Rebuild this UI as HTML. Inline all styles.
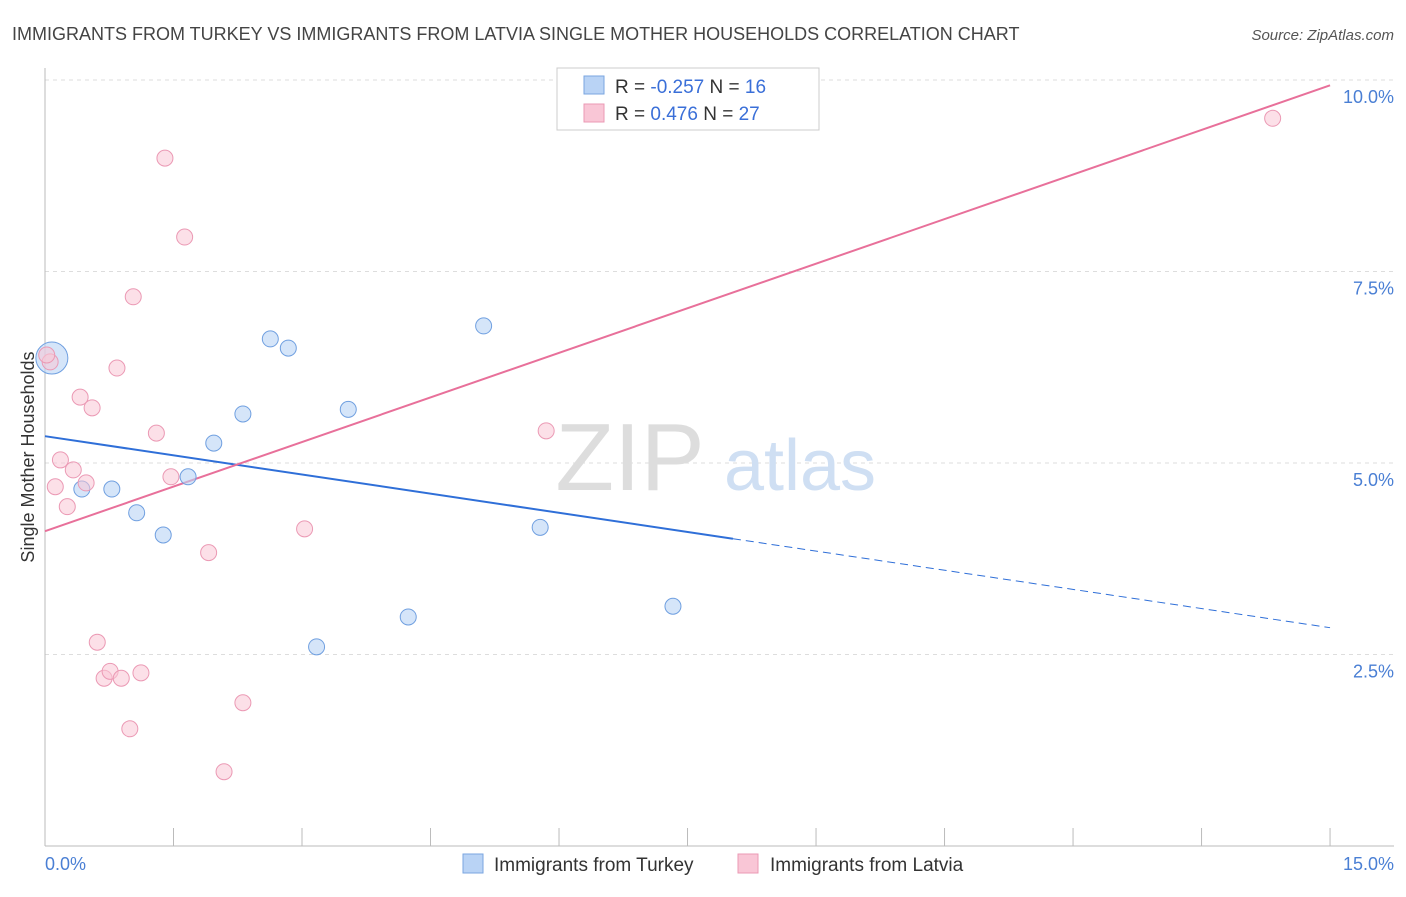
<!DOCTYPE html>
<html><head><meta charset="utf-8"><style>
body{margin:0;background:#fff;font-family:"Liberation Sans",sans-serif}
svg text{font-family:"Liberation Sans",sans-serif}
</style></head><body>
<svg width="1406" height="892" viewBox="0 0 1406 892" xmlns="http://www.w3.org/2000/svg">
<text x="12" y="40" font-size="18" fill="#444">IMMIGRANTS FROM TURKEY VS IMMIGRANTS FROM LATVIA SINGLE MOTHER HOUSEHOLDS CORRELATION CHART</text>
<text x="1394" y="40" font-size="15" fill="#555" font-style="italic" text-anchor="end">Source: ZipAtlas.com</text>
<g id="grid"></g>
<text x="630" y="490" font-size="96" fill="#ddd" font-family="Liberation Serif" text-anchor="middle">ZIP</text>
<text x="800" y="490" font-size="72" fill="#cfdff3" text-anchor="middle">atlas</text>
<line x1="45" y1="68" x2="45" y2="846" stroke="#bbb"/>
<line x1="45" y1="846" x2="1394" y2="846" stroke="#bbb"/>
<text transform="translate(34,457) rotate(-90)" font-size="18" fill="#333" text-anchor="middle">Single Mother Households</text>
<text x="45" y="870" font-size="18" fill="#4a7fd4">0.0%</text>
<text x="1394" y="870" font-size="18" fill="#4a7fd4" text-anchor="end">15.0%</text>
<g id="lines"></g>
<g id="points"></g>
<g>
<rect x="557" y="68" width="262" height="62" fill="#fff" stroke="#ccc"/>
<rect x="584" y="76" width="20" height="18" fill="#b9d3f5" stroke="#7aa6e0"/>
<rect x="584" y="104" width="20" height="18" fill="#f9c6d6" stroke="#eb99b4"/>
<text x="615" y="93" font-size="19" fill="#333">R = <tspan fill="#3a6fd8">-0.257</tspan>   N = <tspan fill="#3a6fd8">16</tspan></text>
<text x="615" y="120" font-size="19" fill="#333">R =  <tspan fill="#3a6fd8"> 0.476</tspan>   N = <tspan fill="#3a6fd8">27</tspan></text>
</g>
<g>
<rect x="463" y="854" width="20" height="19" fill="#b9d3f5" stroke="#7aa6e0"/>
<text x="494" y="871" font-size="19" fill="#333">Immigrants from Turkey</text>
<rect x="738" y="854" width="20" height="19" fill="#f9c6d6" stroke="#eb99b4"/>
<text x="770" y="871" font-size="19" fill="#333">Immigrants from Latvia</text>
</g>
</svg>
<script>
const yTicks=[2.5,5.0,7.5,10.0];
const yTickLabels=["2.5%","5.0%","7.5%","10.0%"];
const turkeyX=[0.08,0.43,0.78,1.07,1.38,1.67,1.97,2.31,2.63,2.84,3.17,3.54,4.24,5.12,5.78,7.33];
const turkeyY=[6.37,4.66,4.66,4.35,4.06,4.82,5.26,5.64,6.62,6.50,2.60,5.70,2.99,6.79,4.16,3.13];
const latviaX=[0.06,0.12,0.18,0.26,0.33,0.41,0.48,0.55,0.61,0.69,0.76,0.84,0.89,0.99,1.03,1.12,1.30,1.40,1.47,1.63,1.91,2.09,2.31,3.03,5.85,14.33,0.02];
const latviaY=[6.32,4.69,5.04,4.43,4.91,5.86,4.74,5.72,2.66,2.19,2.28,6.24,2.19,1.53,7.17,2.26,5.39,8.98,4.82,7.95,3.83,0.97,1.87,4.14,5.42,9.50,6.41];
const turkeyLine=[5.35,2.85]; // y at x=0 and x=15
const turkeySolidEnd=8.03;
const latviaLine=[4.11,9.93];
const NS="http://www.w3.org/2000/svg";
const sx=v=>45+v*85.67, sy=v=>846-v*76.6;
function mk(t,a,p){const e=document.createElementNS(NS,t);for(const k in a)e.setAttribute(k,a[k]);p.appendChild(e);return e;}
const grid=document.getElementById('grid');
yTicks.forEach((t,i)=>{
 const l=mk('line',{x1:45,x2:1394,y1:sy(t),y2:sy(t),stroke:'#ddd','stroke-dasharray':'4,4'},grid);
 
 
 const tx=mk('text',{x:1394,y:sy(t)+23,'font-size':18,fill:'#4a7fd4','text-anchor':'end'},grid);
 tx.textContent=yTickLabels[i];
 
 
});
for(let i=1;i<=10;i++){
 const x=sx(i*1.5);
 const l=mk('line',{x1:x,x2:x,y1:828,y2:846,stroke:'#bbb'},grid);
 
 
}
const lines=document.getElementById('lines');
const ly=(L,x)=>L[0]+(L[1]-L[0])*x/15;
let a=mk('line',{x1:sx(0),y1:sy(ly(turkeyLine,0)),x2:sx(turkeySolidEnd),y2:sy(ly(turkeyLine,turkeySolidEnd)),stroke:'#2f6fd8','stroke-width':2},lines);


a=mk('line',{x1:sx(turkeySolidEnd),y1:sy(ly(turkeyLine,turkeySolidEnd)),x2:sx(15),y2:sy(ly(turkeyLine,15)),stroke:'#2f6fd8','stroke-width':1,'stroke-dasharray':'8,5'},lines);


a=mk('line',{x1:sx(0),y1:sy(latviaLine[0]),x2:sx(15),y2:sy(latviaLine[1]),stroke:'#e8709a','stroke-width':2},lines);


const pts=document.getElementById('points');
turkeyX.forEach((x,i)=>{
 const c=mk('circle',{cx:sx(x),cy:sy(turkeyY[i]),r:i===0?16:8,fill:'rgba(185,211,245,0.6)',stroke:'#6f9fe0','stroke-width':1},pts);
 
 
});
latviaX.forEach((x,i)=>{
 const c=mk('circle',{cx:sx(x),cy:sy(latviaY[i]),r:8,fill:'rgba(249,198,214,0.55)',stroke:'#eb99b4','stroke-width':1},pts);
 
 
});
</script>
</body></html>
